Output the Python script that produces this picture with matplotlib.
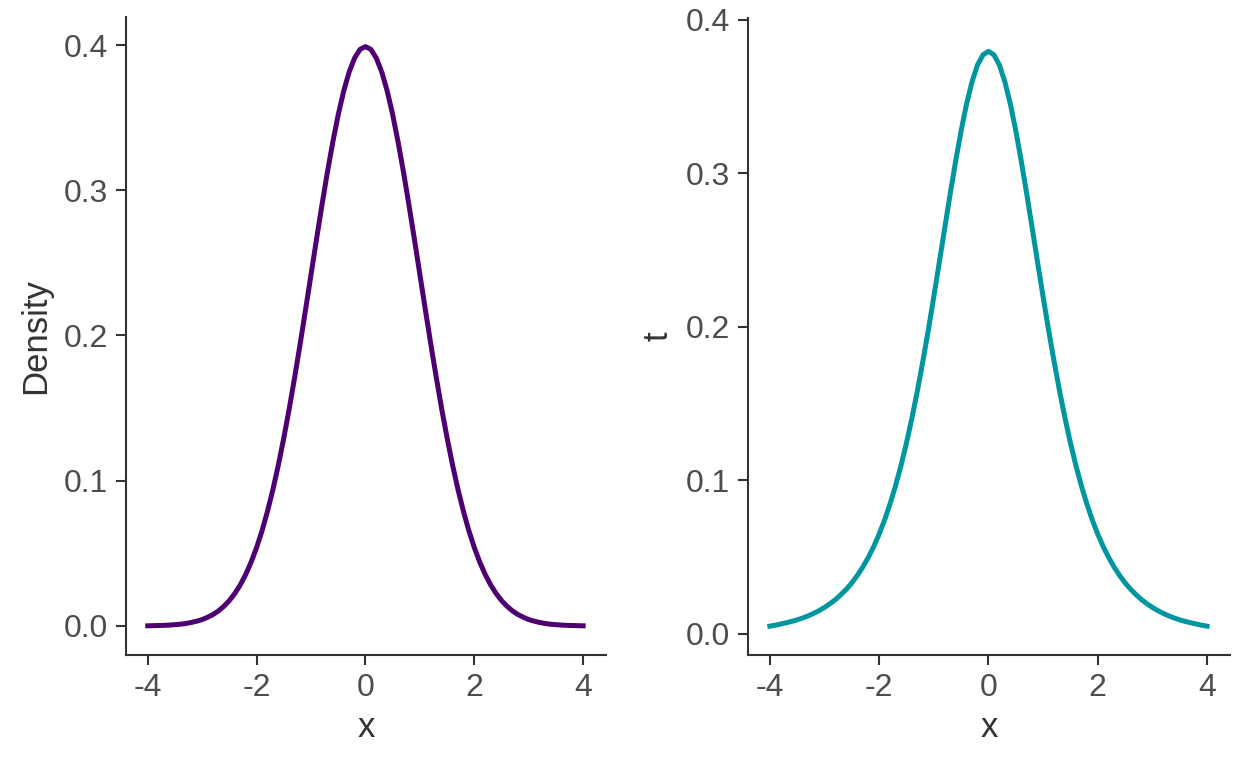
import matplotlib
matplotlib.use("Agg")
import matplotlib.pyplot as plt

plt.rcParams['font.family'] = ['Liberation Sans', 'DejaVu Sans']

# x values, -4 to 4
x = [-4.0, -3.9, -3.8, -3.7, -3.6, -3.5, -3.4, -3.3, -3.2, -3.1,
     -3.0, -2.9, -2.8, -2.7, -2.6, -2.5, -2.4, -2.3, -2.2, -2.1,
     -2.0, -1.9, -1.8, -1.7, -1.6, -1.5, -1.4, -1.3, -1.2, -1.1,
     -1.0, -0.9, -0.8, -0.7, -0.6, -0.5, -0.4, -0.3, -0.2, -0.1,
     0.0, 0.1, 0.2, 0.3, 0.4, 0.5, 0.6, 0.7, 0.8, 0.9,
     1.0, 1.1, 1.2, 1.3, 1.4, 1.5, 1.6, 1.7, 1.8, 1.9,
     2.0, 2.1, 2.2, 2.3, 2.4, 2.5, 2.6, 2.7, 2.8, 2.9,
     3.0, 3.1, 3.2, 3.3, 3.4, 3.5, 3.6, 3.7, 3.8, 3.9, 4.0]

# left panel: density curve
density = [0.0001, 0.0002, 0.0003, 0.0004, 0.0006, 0.0009, 0.0012, 0.0017, 0.0024, 0.0033,
           0.0044, 0.0060, 0.0079, 0.0104, 0.0136, 0.0175, 0.0224, 0.0283, 0.0355, 0.0440,
           0.0540, 0.0656, 0.0790, 0.0940, 0.1109, 0.1295, 0.1497, 0.1714, 0.1942, 0.2179,
           0.2420, 0.2661, 0.2897, 0.3123, 0.3332, 0.3521, 0.3683, 0.3814, 0.3910, 0.3970,
           0.3989, 0.3970, 0.3910, 0.3814, 0.3683, 0.3521, 0.3332, 0.3123, 0.2897, 0.2661,
           0.2420, 0.2179, 0.1942, 0.1714, 0.1497, 0.1295, 0.1109, 0.0940, 0.0790, 0.0656,
           0.0540, 0.0440, 0.0355, 0.0283, 0.0224, 0.0175, 0.0136, 0.0104, 0.0079, 0.0060,
           0.0044, 0.0033, 0.0024, 0.0017, 0.0012, 0.0009, 0.0006, 0.0004, 0.0003, 0.0002, 0.0001]

# right panel: t curve
t_vals = [0.0051, 0.0057, 0.0065, 0.0073, 0.0082, 0.0092, 0.0104, 0.0118, 0.0134, 0.0152,
          0.0173, 0.0197, 0.0224, 0.0256, 0.0292, 0.0333, 0.0381, 0.0436, 0.0498, 0.0569,
          0.0651, 0.0743, 0.0848, 0.0966, 0.1098, 0.1245, 0.1407, 0.1585, 0.1777, 0.1981,
          0.2197, 0.2419, 0.2645, 0.2868, 0.3081, 0.3279, 0.3454, 0.3598, 0.3707, 0.3773,
          0.3796, 0.3773, 0.3707, 0.3598, 0.3454, 0.3279, 0.3081, 0.2868, 0.2645, 0.2419,
          0.2197, 0.1981, 0.1777, 0.1585, 0.1407, 0.1245, 0.1098, 0.0966, 0.0848, 0.0743,
          0.0651, 0.0569, 0.0498, 0.0436, 0.0381, 0.0333, 0.0292, 0.0256, 0.0224, 0.0197,
          0.0173, 0.0152, 0.0134, 0.0118, 0.0104, 0.0092, 0.0082, 0.0073, 0.0065, 0.0057, 0.0051]

x_ticks = [-4, -2, 0, 2, 4]
y_ticks = [0.0, 0.1, 0.2, 0.3, 0.4]
W, H = 1248, 768

fig = plt.figure(figsize=(12.48, 7.68), dpi=100)
ax1 = fig.add_axes([126 / W, 1 - 655 / H, (606 - 126) / W, (655 - 17) / H])
ax2 = fig.add_axes([748 / W, 1 - 655 / H, (1230 - 748) / W, (655 - 18) / H])

axis_col = '#333333'
tick_col = '#4d4d4d'

def style(ax, ylabel):
    for s in ['top', 'right']:
        ax.spines[s].set_visible(False)
    for s in ['left', 'bottom']:
        ax.spines[s].set_color(axis_col)
        ax.spines[s].set_linewidth(1.5)
    ax.tick_params(direction='out', length=7, width=1.5, color=axis_col,
                   labelcolor=tick_col, labelsize=23, pad=6)
    ax.set_xticks(x_ticks)
    ax.set_xticklabels([str(v) for v in x_ticks])
    ax.set_yticks(y_ticks)
    ax.set_yticklabels(['%.1f' % v for v in y_ticks])
    ax.set_xlim(-4.4, 4.42)
    ax.set_xlabel('x', fontsize=25, color=axis_col, labelpad=6)
    ax.set_ylabel(ylabel, fontsize=25, color=axis_col, labelpad=8)

ax1.plot(x, density, color='#4e0072', linewidth=3.6, solid_joinstyle='round')
style(ax1, 'Density')
ax1.set_ylim(-0.02, 0.4193)

ax2.plot(x, t_vals, color='#00969f', linewidth=3.6, solid_joinstyle='round')
style(ax2, 't')
ax2.set_ylim(-0.0137, 0.4013)

fig.savefig('out.png', dpi=100)
